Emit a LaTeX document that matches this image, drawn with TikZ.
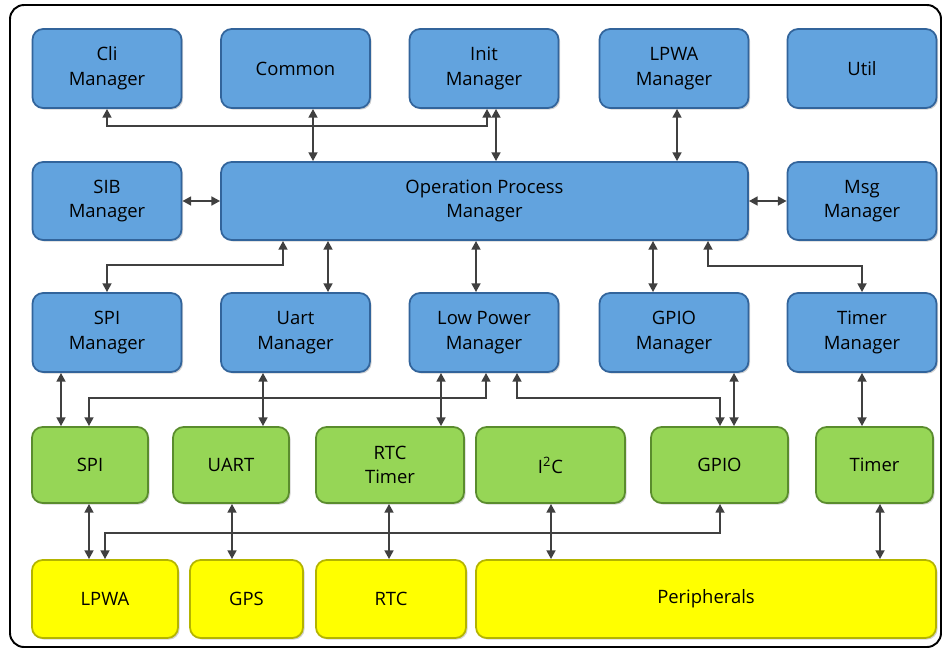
\documentclass[tikz,border=0pt]{standalone}
\usepackage{fontspec}
\setmainfont{Open Sans}
\usetikzlibrary{arrows.meta,shadows}
\definecolor{bluefill}{RGB}{98,163,222}
\definecolor{blueline}{RGB}{50,100,155}
\definecolor{greenfill}{RGB}{150,214,86}
\definecolor{greenline}{RGB}{90,140,45}
\definecolor{yelfill}{RGB}{255,255,0}
\definecolor{yelline}{RGB}{180,180,0}
\definecolor{conncol}{RGB}{64,64,64}
\tikzset{
  box/.style={rounded corners=6pt, line width=1pt, inner sep=0pt, align=center,
    font=\fontsize{10.5}{14}\selectfont,
    drop shadow={opacity=0.35, shadow xshift=0.9pt, shadow yshift=-0.9pt}},
  bluebox/.style={box, fill=bluefill, draw=blueline},
  greenbox/.style={box, fill=greenfill, draw=greenline},
  yelbox/.style={box, fill=yelfill, draw=yelline},
  conn/.style={draw=conncol, line width=1.6pt, {Triangle[length=5pt,width=5pt]}-{Triangle[length=5pt,width=5pt]}}
}
\begin{document}
\begin{tikzpicture}[x=0.02cm,y=-0.02cm]
\useasboundingbox (0,0) rectangle (946,650);
\draw[line width=1.1pt, rounded corners=8pt] (10,5) rectangle (941,647);
% row 1
\node[bluebox, minimum width=2.98cm, minimum height=1.58cm] (cli) at (107,68.5) {Cli\\Manager};
\node[bluebox, minimum width=2.98cm, minimum height=1.58cm] (common) at (295.5,68.5) {Common};
\node[bluebox, minimum width=2.98cm, minimum height=1.58cm] (init) at (484,68.5) {Init\\Manager};
\node[bluebox, minimum width=2.98cm, minimum height=1.58cm] (lpwam) at (674,68.5) {LPWA\\Manager};
\node[bluebox, minimum width=2.98cm, minimum height=1.58cm] (util) at (862,68.5) {Util};
% row 2
\node[bluebox, minimum width=2.98cm, minimum height=1.56cm] (sib) at (107,201) {SIB\\Manager};
\node[bluebox, minimum width=10.54cm, minimum height=1.56cm] (opm) at (484.5,201) {Operation Process\\Manager};
\node[bluebox, minimum width=2.98cm, minimum height=1.56cm] (msg) at (862,201) {Msg\\Manager};
% row 3
\node[bluebox, minimum width=2.98cm, minimum height=1.58cm] (spim) at (107,332.5) {SPI\\Manager};
\node[bluebox, minimum width=2.98cm, minimum height=1.58cm] (uartm) at (295.5,332.5) {Uart\\Manager};
\node[bluebox, minimum width=2.98cm, minimum height=1.58cm] (lpm) at (484,332.5) {Low Power\\Manager};
\node[bluebox, minimum width=2.98cm, minimum height=1.58cm] (gpiom) at (674,332.5) {GPIO\\Manager};
\node[bluebox, minimum width=2.98cm, minimum height=1.58cm] (timerm) at (862,332.5) {Timer\\Manager};
% row 4
\node[greenbox, minimum width=2.32cm, minimum height=1.52cm] (spi) at (90,465) {SPI};
\node[greenbox, minimum width=2.32cm, minimum height=1.52cm] (uart) at (231,465) {UART};
\node[greenbox, minimum width=2.96cm, minimum height=1.52cm] (rtct) at (390,465) {RTC\\Timer};
\node[greenbox, minimum width=2.98cm, minimum height=1.52cm] (i2c) at (550.5,465) {I\textsuperscript{2}C};
\node[greenbox, minimum width=2.74cm, minimum height=1.52cm] (gpio) at (719.5,465) {GPIO};
\node[greenbox, minimum width=2.34cm, minimum height=1.52cm] (timer) at (874.5,465) {Timer};
% row 5
\node[yelbox, minimum width=2.92cm, minimum height=1.56cm] (lpwa) at (105,599) {LPWA};
\node[yelbox, minimum width=2.26cm, minimum height=1.56cm] (gps) at (246.5,599) {GPS};
\node[yelbox, minimum width=3.0cm, minimum height=1.56cm] (rtc) at (391,599) {RTC};
\node[yelbox, minimum width=9.2cm, minimum height=1.56cm] (periph) at (706,599) {Peripherals};
% connectors row1-row2
\draw[conn] (cli.south -| 107,0) -- (107,126) -- (487,126) -- (init.south -| 487,0);
\draw[conn] (common.south -| 313,0) -- (opm.north -| 313,0);
\draw[conn] (init.south -| 496,0) -- (opm.north -| 496,0);
\draw[conn] (lpwam.south -| 677,0) -- (opm.north -| 677,0);
\draw[conn] (sib.east) -- (opm.west |- sib.east);
\draw[conn] (opm.east |- msg.west) -- (msg.west);
% row2-row3
\draw[conn] (opm.south -| 283,0) -- (283,265) -- (107,265) -- (spim.north);
\draw[conn] (opm.south -| 328,0) -- (uartm.north -| 328,0);
\draw[conn] (opm.south -| 476,0) -- (lpm.north -| 476,0);
\draw[conn] (opm.south -| 653,0) -- (gpiom.north -| 653,0);
\draw[conn] (opm.south -| 708,0) -- (708,266) -- (862,266) -- (timerm.north);
% row3-row4
\draw[conn] (spim.south -| 61,0) -- (spi.north -| 61,0);
\draw[conn] (lpm.south -| 486,0) -- (486,398) -- (89,398) -- (spi.north -| 89,0);
\draw[conn] (uartm.south -| 263,0) -- (uart.north -| 263,0);
\draw[conn] (lpm.south -| 441,0) -- (rtct.north -| 441,0);
\draw[conn] (lpm.south -| 517,0) -- (517,398) -- (720,398) -- (gpio.north -| 720,0);
\draw[conn] (gpiom.south -| 734,0) -- (gpio.north -| 734,0);
\draw[conn] (timerm.south -| 862,0) -- (timer.north -| 862,0);
% row4-row5
\draw[conn] (spi.south -| 89,0) -- (lpwa.north -| 89,0);
\draw[conn] (gpio.south -| 720,0) -- (720,533) -- (105,533) -- (lpwa.north -| 105,0);
\draw[conn] (uart.south -| 232,0) -- (gps.north -| 232,0);
\draw[conn] (rtct.south -| 389,0) -- (rtc.north -| 389,0);
\draw[conn] (i2c.south -| 551,0) -- (periph.north -| 551,0);
\draw[conn] (timer.south -| 880,0) -- (periph.north -| 880,0);
\end{tikzpicture}
\end{document}
